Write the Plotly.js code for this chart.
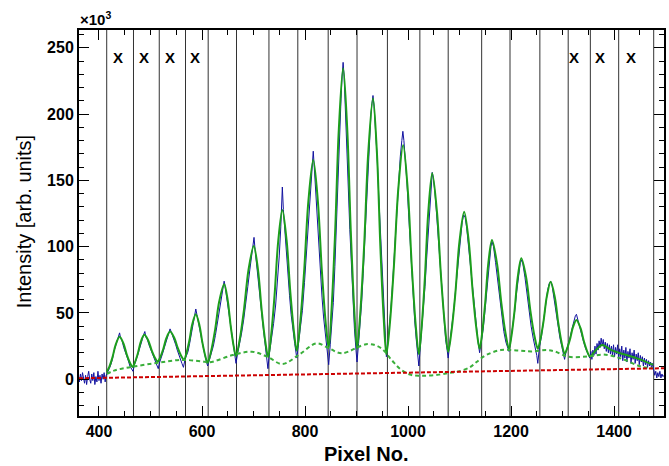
<!DOCTYPE html>
<html>
<head>
<meta charset="utf-8">
<script src="https://cdn.plot.ly/plotly-3.0.1.min.js"></script>
<style>
  html, body { margin: 0; padding: 0; background: #ffffff; }
  #chart { width: 669px; height: 466px; }
</style>
</head>
<body>
<div id="chart"></div>
<script>
// Measured spectrum (intensity in units of 10^3), one row per stretch of the detector
const pixel = [
  360,362,364,366,368,370,372,374,376,378,380,382,384,386,388,390,392,394,396,398,400,402,404,406,408,410,412,414,
  417,420,423,426,429,432,435,438,440,442,445,448,451,454,457,460,463,466,
  469,472,475,478,481,484,487,489,491,494,497,500,503,506,509,512,515,
  518,521,524,527,530,533,536,538,540,543,546,549,552,555,558,561,564,
  567,570,573,576,579,582,585,588,590,593,596,599,602,605,608,611,
  614,618,622,626,630,634,638,641,643,645,648,651,654,657,660,663,666,
  669,673,677,681,685,689,693,696,699,701,703,706,709,712,715,718,721,724,728,
  731,735,739,743,747,750,753,755,756,758,761,764,767,770,773,776,780,784,
  787,791,795,799,803,807,810,813,816,818,821,824,827,830,833,836,840,843,846,
  849,852,855,858,861,864,867,870,872,874,876,878,881,884,887,890,893,896,899,901,
  904,907,910,913,916,919,922,925,928,930,932,934,937,940,943,946,949,952,955,958,
  961,964,967,970,973,976,979,982,985,988,990,992,995,998,1001,1004,1007,1010,1013,1016,1019,1021,
  1024,1027,1030,1033,1036,1039,1042,1045,1047,1049,1052,1055,1058,1061,1064,1067,1070,1073,1076,1078,
  1081,1085,1089,1093,1097,1101,1105,1108,1111,1114,1117,1120,1124,1128,1132,1136,1139,
  1142,1146,1150,1154,1158,1161,1163,1166,1170,1174,1178,1182,1186,1190,1193,1196,
  1199,1203,1207,1211,1215,1218,1220,1223,1227,1231,1235,1239,1243,1247,1250,1252,
  1255,1259,1263,1267,1271,1274,1277,1280,1283,1287,1291,1295,1299,1302,1304,
  1307,1311,1315,1319,1322,1325,1327,1330,1333,1337,1341,1345,1349,1353,
  1355,1357,1359,1361,1363,1365,1367,1369,1371,1373,
  1375,1377,1379,1381,1383,1385,1387,1389,1391,1393,
  1395,1397,1399,1401,1403,1405,1407,1409,1411,1413,
  1415,1417,1419,1421,1423,1425,1427,1429,1431,1433,
  1435,1437,1439,1441,1443,1445,1447,1449,1451,1453,
  1455,1457,1459,1461,1463,1465,1467,1469,1471,1473,
  1475,1477,1479,1481,1483,1485,1487,1489,1491,1493,
  1495,1497
];
const intensity = [
  2,-2,4,-1,5,1,-3,3,-4,2,6,0,-3,4,-1,5,-4,2,-2,6,-1,3,-3,4,0,5,-2,3,
  5,8,11,15,21,25,30,33,35,31,29,24,21,17,14,10,8,6,
  11,14,18,22,27,30,34,36,32,30,26,23,19,16,13,10,8,
  13,16,20,24,28,32,35,38,36,33,29,26,22,18,15,12,9,
  15,18,21,27,33,39,46,53,49,42,36,31,25,19,14,10,
  14,18,25,33,42,53,63,70,74,70,62,52,43,35,27,20,12,
  19,26,35,45,56,70,83,93,100,107,98,88,76,65,53,42,31,22,8,
  20,30,42,56,75,93,115,132,145,128,110,93,77,63,49,38,27,16,
  25,36,52,73,97,122,142,158,172,160,140,118,97,80,62,47,32,22,11,
  26,40,58,85,120,155,185,212,228,239,228,210,178,145,113,84,58,38,22,13,
  27,40,58,80,105,133,160,183,200,208,214,206,190,168,140,113,86,60,38,17,
  28,40,54,72,92,113,133,152,168,180,187,180,167,148,126,104,83,62,44,30,20,10,
  25,38,52,70,90,110,130,146,156,152,142,127,110,92,73,56,41,30,22,16,
  27,38,53,70,88,105,118,124,122,114,102,89,72,55,40,28,20,
  27,38,54,72,90,100,104,100,88,74,60,47,36,28,24,21,
  28,38,51,66,80,88,90,87,77,64,52,40,31,24,18,12,
  24,32,44,56,67,72,74,70,62,51,40,31,24,19,15,
  21,26,32,39,44,48,49,44,40,34,28,23,19,16,
  21,15,22,18,25,19,27,22,29,24,
  31,25,30,23,28,21,27,20,26,19,
  25,18,26,17,24,19,26,15,23,17,
  25,14,22,16,24,13,21,16,23,12,
  20,15,22,12,19,14,20,11,18,13,
  17,10,16,11,15,9,14,10,13,8,
  12,6,3,6,1,5,2,6,1,4,
  2,3
];

// Fit function: total model, sampled along the curve (one row per peak)
const fitPixel = [
  415,
  420,426.3,432.5,440,447.5,453.8,460,465,
  469.6,475.4,481.1,488,495.8,502.3,508.8,514,
  518.8,524.8,530.8,538,546.1,552.9,559.6,565,
  569.6,575.4,581.1,588,594.9,600.7,606.4,611,
  617.4,625.4,633.4,643,649.9,655.7,661.4,666,
  672.9,681.5,690.2,700.5,708.9,715.9,722.9,728.5,
  734,740.9,747.8,756,764.4,771.4,778.4,784,
  790.4,798.4,806.4,816,825,832.5,840,846,
  851.6,858.6,865.6,874,882.1,888.9,895.6,901,
  907.2,915,922.7,932,939.8,946.3,952.8,958,
  964.5,972.6,980.8,990.5,999.7,1007.3,1014.9,1021,
  1026.2,1032.7,1039.2,1047,1056.3,1064.1,1071.8,1078,
  1084.2,1092,1099.7,1109,1118,1125.5,1133,1139,
  1143.8,1149.8,1155.8,1163,1172.9,1181.2,1189.4,1196,
  1200.8,1206.8,1212.8,1220,1229.6,1237.6,1245.6,1252,
  1257,1263.3,1269.5,1277,1285.1,1291.9,1298.6,1304,
  1308.6,1314.4,1320.1,1327,1334.8,1341.3,1347.8,1353,
  1365,1377,1395,1412,1445,1476
];
const fitValue = [
  5.7,
  9.4,16.7,26.2,32,27.0,18.8,12.5,9.3,
  12.7,19.5,28.2,33.5,29.1,21.8,16.1,13.3,
  16.5,22.8,31.0,36,31.3,23.6,17.6,14.6,
  19.4,29.0,41.4,49,41.0,27.8,17.6,12.5,
  20.8,37.3,58.6,71.6,59.7,40.3,25.2,17.6,
  29.2,52.4,82.3,100.5,82.1,52.0,28.5,16.8,
  32.3,63.4,103.3,127.7,104.3,66.1,36.4,21.5,
  41.6,81.9,133.7,165.4,134.2,83.1,43.4,23.5,
  53.0,112.1,188.1,234.5,188,111.8,52.6,23,
  49.5,102.4,170.4,212,169.5,99.9,45.8,18.7,
  40.8,85.1,141.9,176.7,142,85.2,41.1,19,
  38.1,76.3,125.4,155.4,125.8,77.3,39.6,20.8,
  35.6,65.2,103.2,126.4,103.7,66.4,37.5,23,
  34.5,57.4,87,105,87,57.4,34.5,23,
  32.5,51.6,76.2,91.2,76.2,51.6,32.5,23,
  30.1,44.3,62.5,73.6,61.7,42.1,26.9,19.3,
  22.9,30,39.1,44.7,38.7,28.8,21.1,17.3,
  22,25.9,22,19.6,15.8,10.8
];

// Fit function: background component
const bgPixel = [
  415,429,466,515,560,600,615,660,697,727,756,790,822,846,871,922,948,968,987,
  1007,1030,1060,1080,1094,1120,1133,1152,1180,1216,1240,1270,1285,1311,1350,
  1380,1415,1453,1476
];
const bgValue = [
  4,6.5,9.5,12.5,14.6,13.5,12.8,18.3,20.8,17,11.5,19,27,23.5,19.6,26.6,23.4,14.6,7,
  3.2,2.7,3.5,4.8,5.5,9,13,18.3,22,21.6,21,22,21,17,17.2,
  18.6,15.5,9.5,8.3
];

// Linear baseline
const basePixel = [361.2, 1497];
const baseValue = [0.75, 8.3];

// Fit-region boundaries
const regionEdges = [415,467,517,568,612,667,730,786,845,901,960,1023,1078,1143,1198,1256,1311,1354,1409,1477];

// Peaks left out of the analysis
const excludedPeaks = [436,488,538,586,1322,1372,1432];
const excludedMarkLevel = 242.5;

const fontFamily = 'Liberation Sans, Arial, Helvetica, sans-serif';

const traces = [
  {
    x: pixel, y: intensity, type: 'scatter', mode: 'lines',
    line: {color: '#1212a0', width: 1},
    hoverinfo: 'skip'
  },
  {
    x: fitPixel, y: fitValue, type: 'scatter', mode: 'lines',
    line: {color: '#1c9e1c', width: 2, shape: 'spline', smoothing: 0.9},
    hoverinfo: 'skip'
  },
  {
    x: bgPixel, y: bgValue, type: 'scatter', mode: 'lines',
    line: {color: '#3aaf3a', width: 2, dash: '4px,3px', shape: 'spline', smoothing: 1},
    hoverinfo: 'skip'
  },
  {
    x: basePixel, y: baseValue, type: 'scatter', mode: 'lines',
    line: {color: '#cc0000', width: 2, dash: '4px,2px'},
    hoverinfo: 'skip'
  }
];

const shapes = regionEdges.map(e => ({
  type: 'line', xref: 'x', yref: 'paper',
  x0: e, x1: e, y0: 0, y1: 1,
  line: {color: '#333333', width: 1},
  layer: 'below'
}));

const annotations = excludedPeaks.map(p => ({
  x: p, y: excludedMarkLevel, xref: 'x', yref: 'y',
  text: 'X', showarrow: false,
  font: {family: fontFamily, size: 15, weight: 'bold', color: '#000'}
}));

annotations.push(
  {
    xref: 'paper', yref: 'paper', x: 0.4906, y: -0.0984,
    xanchor: 'center', yanchor: 'middle',
    text: 'Pixel No.', showarrow: false, borderpad: 0,
    font: {family: fontFamily, size: 20, weight: 'bold', color: '#000'}
  },
  {
    xref: 'paper', yref: 'paper', x: -0.094, y: 0.502,
    xanchor: 'center', yanchor: 'middle', textangle: -90,
    text: 'Intensity [arb. units]', showarrow: false,
    font: {family: fontFamily, size: 20, color: '#000'}
  },
  {
    xref: 'paper', yref: 'paper', x: -0.002, y: 1.0,
    xanchor: 'left', yanchor: 'bottom',
    text: '×10<sup>3</sup>', showarrow: false,
    font: {family: fontFamily, size: 15, weight: 'bold', color: '#000'}
  }
);

const axisCommon = {
  ticks: 'inside', tickcolor: '#000', tickwidth: 1, ticklen: 10,
  showline: true, linecolor: '#000', linewidth: 2, mirror: 'allticks',
  showgrid: false, zeroline: false,
  tickfont: {family: fontFamily, size: 16, weight: 'bold', color: '#000'}
};

const layout = {
  width: 669, height: 466,
  margin: {l: 79, r: 5, t: 30, b: 50},
  paper_bgcolor: '#ffffff', plot_bgcolor: '#ffffff',
  showlegend: false,
  xaxis: Object.assign({}, axisCommon, {
    range: [361.2, 1497],
    tick0: 0, dtick: 200,
    minor: {dtick: 50, tick0: 0, ticks: 'inside', ticklen: 5, tickcolor: '#000', tickwidth: 1, showgrid: false}
  }),
  yaxis: Object.assign({}, axisCommon, {
    range: [-27.7, 263.4],
    tick0: 0, dtick: 50,
    minor: {dtick: 10, tick0: 0, ticks: 'inside', ticklen: 5, tickcolor: '#000', tickwidth: 1, showgrid: false}
  }),
  shapes: shapes,
  annotations: annotations
};

Plotly.newPlot('chart', traces, layout, {displayModeBar: false, staticPlot: true});
</script>
</body>
</html>
